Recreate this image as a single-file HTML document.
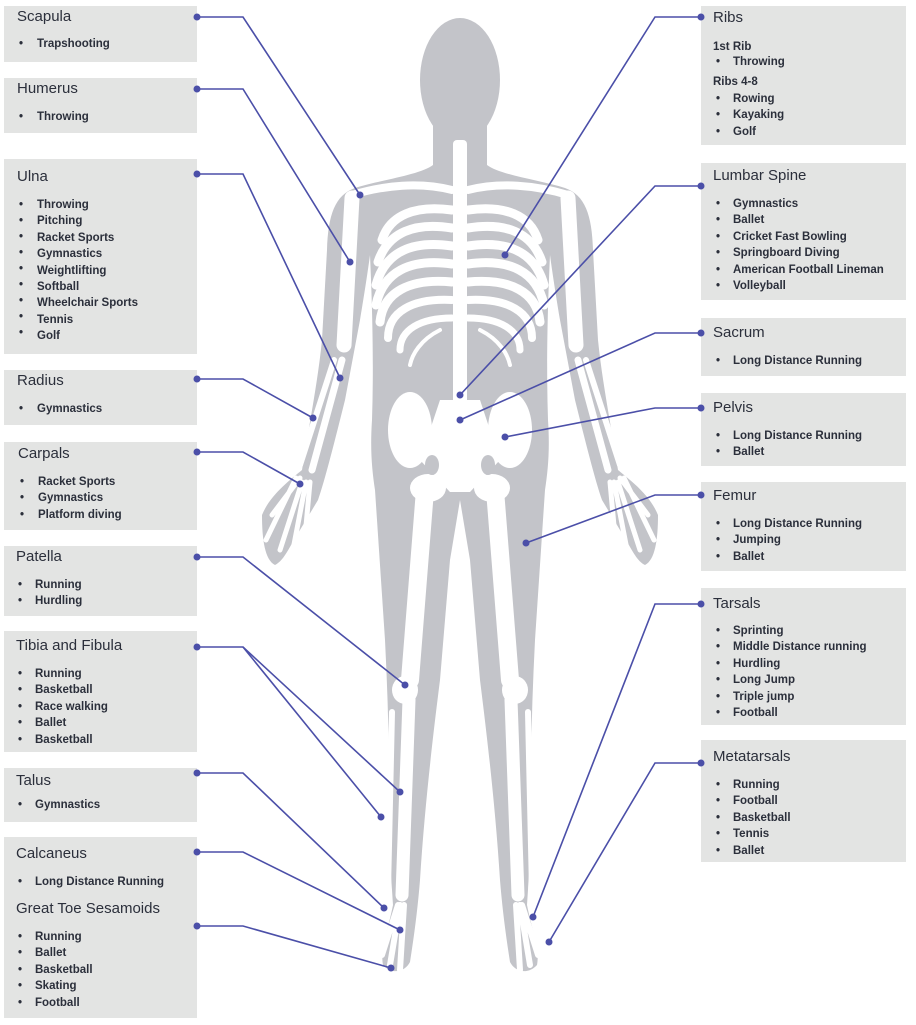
<!DOCTYPE html>
<html><head><meta charset="utf-8"><style>
body{margin:0;width:916px;height:1025px;background:#fff;position:relative;overflow:hidden;font-family:"Liberation Sans",sans-serif;color:#2b2f3b}
.b{position:absolute;background:#e3e4e3}
.t{position:absolute;font-size:15px;line-height:16px;height:16px;white-space:nowrap}
.i{position:absolute;font-size:11.5px;font-weight:bold;line-height:16px;height:16px;white-space:nowrap}
.s{position:absolute;font-size:11.5px;font-weight:bold;line-height:16px;height:16px}
svg{position:absolute;left:0;top:0}
</style></head><body>
<div class="b" style="left:4px;top:6px;width:193px;height:56px"></div>
<div class="b" style="left:4px;top:78px;width:193px;height:55px"></div>
<div class="b" style="left:4px;top:159px;width:193px;height:195px"></div>
<div class="b" style="left:4px;top:370px;width:193px;height:55px"></div>
<div class="b" style="left:4px;top:442px;width:193px;height:88px"></div>
<div class="b" style="left:4px;top:546px;width:193px;height:70px"></div>
<div class="b" style="left:4px;top:631px;width:193px;height:121px"></div>
<div class="b" style="left:4px;top:768px;width:193px;height:54px"></div>
<div class="b" style="left:4px;top:837px;width:193px;height:181px"></div>
<div class="b" style="left:701px;top:6px;width:205px;height:139px"></div>
<div class="b" style="left:701px;top:163px;width:205px;height:137px"></div>
<div class="b" style="left:701px;top:318px;width:205px;height:58px"></div>
<div class="b" style="left:701px;top:393px;width:205px;height:73px"></div>
<div class="b" style="left:701px;top:482px;width:205px;height:89px"></div>
<div class="b" style="left:701px;top:588px;width:205px;height:137px"></div>
<div class="b" style="left:701px;top:740px;width:205px;height:122px"></div>

<svg width="916" height="1025" viewBox="0 0 916 1025">
<defs>
<path id="half" d="M460,165 L433,165 C420,175 380,180 355,188 C335,195 328,215 327,250 L322,340 C318,380 310,420 302,470 C290,480 270,495 262,515 C262,540 265,560 275,565 C285,560 290,545 300,530 L318,500 C325,480 335,440 345,400 L360,320 C365,290 368,270 370,255 C372,300 374,360 372,420 C370,450 372,470 375,490 L385,640 C388,700 390,760 388,820 C390,860 392,890 393,905 C388,930 380,950 383,965 C392,975 405,972 410,962 C415,930 418,905 420,880 C425,800 435,720 440,680 L450,560 L460,500 Z"/>
<g id="bones" fill="none" stroke="#fff" stroke-linecap="round">
<path d="M452,190 C420,182 385,185 352,195" stroke-width="8"/>
<path d="M452,210 C415,205 390,215 382,240" stroke-width="9"/>
<path d="M452,228 C415,222 388,232 378,262" stroke-width="9"/>
<path d="M452,246 C412,240 385,252 376,285" stroke-width="9"/>
<path d="M452,264 C410,258 383,272 376,305" stroke-width="9"/>
<path d="M452,282 C410,278 383,292 380,322" stroke-width="9"/>
<path d="M452,300 C412,298 388,312 388,338" stroke-width="8"/>
<path d="M452,318 C420,318 400,330 400,350" stroke-width="7"/>
<path d="M440,330 C420,340 412,355 410,365" stroke-width="4"/>
<path d="M352,198 L344,345" stroke-width="15"/>
<path d="M342,360 L312,470" stroke-width="7"/>
<path d="M334,360 L300,465" stroke-width="6"/>
<path d="M300,478 L272,515 M302,482 L280,550 M306,482 L292,555 M310,482 L304,548 M296,478 L266,540" stroke-width="5"/>
<path d="M425,490 L410,680" stroke-width="18"/>
<path d="M409,700 L402,895" stroke-width="13"/>
<path d="M392,712 L388,890" stroke-width="6"/>
<path d="M400,905 L390,965 M404,905 L400,970 M398,905 L382,955" stroke-width="6"/>
</g>
</defs>
<g fill="#c3c4c9">
<ellipse cx="460" cy="80" rx="40" ry="62"/>
<rect x="433" y="120" width="54" height="60"/>
<use href="#half"/>
<use href="#half" transform="translate(920,0) scale(-1,1)"/>
</g>
<use href="#bones"/>
<use href="#bones" transform="translate(920,0) scale(-1,1)"/>
<g fill="#fff">
<rect x="453" y="140" width="14" height="270" rx="4"/>
<ellipse cx="410" cy="430" rx="22" ry="38"/>
<ellipse cx="510" cy="430" rx="22" ry="38"/>
<path d="M440,400 L480,400 L500,460 L470,492 L450,492 L420,460 Z"/>
<ellipse cx="428" cy="488" rx="18" ry="14"/>
<ellipse cx="492" cy="488" rx="18" ry="14"/>
<ellipse cx="405" cy="690" rx="13" ry="14"/>
<ellipse cx="515" cy="690" rx="13" ry="14"/>
</g>
<g fill="#c3c4c9"><ellipse cx="432" cy="465" rx="7" ry="10"/><ellipse cx="488" cy="465" rx="7" ry="10"/></g>
<g fill="none" stroke="#4b4fa8" stroke-width="1.6">
<polyline points="197,17 243,17 360,195"/>
<polyline points="197,89 243,89 350,262"/>
<polyline points="197,174 243,174 340,378"/>
<polyline points="197,379 243,379 313,418"/>
<polyline points="197,452 243,452 300,484"/>
<polyline points="197,557 243,557 405,685"/>
<polyline points="197,647 243,647 400,792"/>
<polyline points="243,647 381,817"/>
<polyline points="197,773 243,773 384,908"/>
<polyline points="197,852 243,852 400,930"/>
<polyline points="197,926 243,926 391,968"/>
<polyline points="701,17 655,17 505,255"/>
<polyline points="701,186 655,186 460,395"/>
<polyline points="701,333 655,333 460,420"/>
<polyline points="701,408 655,408 505,437"/>
<polyline points="701,495 655,495 526,543"/>
<polyline points="701,604 655,604 533,917"/>
<polyline points="701,763 655,763 549,942"/>
</g>
<g fill="#4b4fa8">
<circle cx="197" cy="17" r="3.5"/><circle cx="360" cy="195" r="3.5"/>
<circle cx="197" cy="89" r="3.5"/><circle cx="350" cy="262" r="3.5"/>
<circle cx="197" cy="174" r="3.5"/><circle cx="340" cy="378" r="3.5"/>
<circle cx="197" cy="379" r="3.5"/><circle cx="313" cy="418" r="3.5"/>
<circle cx="197" cy="452" r="3.5"/><circle cx="300" cy="484" r="3.5"/>
<circle cx="197" cy="557" r="3.5"/><circle cx="405" cy="685" r="3.5"/>
<circle cx="197" cy="647" r="3.5"/><circle cx="400" cy="792" r="3.5"/><circle cx="381" cy="817" r="3.5"/>
<circle cx="197" cy="773" r="3.5"/><circle cx="384" cy="908" r="3.5"/>
<circle cx="197" cy="852" r="3.5"/><circle cx="400" cy="930" r="3.5"/>
<circle cx="197" cy="926" r="3.5"/><circle cx="391" cy="968" r="3.5"/>
<circle cx="701" cy="17" r="3.5"/><circle cx="505" cy="255" r="3.5"/>
<circle cx="701" cy="186" r="3.5"/><circle cx="460" cy="395" r="3.5"/>
<circle cx="701" cy="333" r="3.5"/><circle cx="460" cy="420" r="3.5"/>
<circle cx="701" cy="408" r="3.5"/><circle cx="505" cy="437" r="3.5"/>
<circle cx="701" cy="495" r="3.5"/><circle cx="526" cy="543" r="3.5"/>
<circle cx="701" cy="604" r="3.5"/><circle cx="533" cy="917" r="3.5"/>
<circle cx="701" cy="763" r="3.5"/><circle cx="549" cy="942" r="3.5"/>
</g>
</svg>

<div class="t" style="left:17px;top:9px">Scapula</div>
<div class="s" style="left:19px;top:36px">•</div><div class="i" style="left:37px;top:36px">Trapshooting</div>
<div class="t" style="left:17px;top:81px">Humerus</div>
<div class="s" style="left:19px;top:109px">•</div><div class="i" style="left:37px;top:109px">Throwing</div>
<div class="t" style="left:17px;top:169px">Ulna</div>
<div class="s" style="left:19px;top:197px">•<br>•<br>•<br>•<br>•<br>•<br>•<br>•<br>•</div>
<div class="i" style="left:37px;top:197px;line-height:16.4px">Throwing<br>Pitching<br>Racket Sports<br>Gymnastics<br>Weightlifting<br>Softball<br>Wheelchair Sports<br>Tennis<br>Golf</div>
<div class="t" style="left:17px;top:373px">Radius</div>
<div class="s" style="left:19px;top:401px">•</div><div class="i" style="left:37px;top:401px">Gymnastics</div>
<div class="t" style="left:18px;top:446px">Carpals</div>
<div class="s" style="left:20px;top:474px;line-height:16.4px">•<br>•<br>•</div>
<div class="i" style="left:38px;top:474px;line-height:16.4px">Racket Sports<br>Gymnastics<br>Platform diving</div>
<div class="t" style="left:16px;top:549px">Patella</div>
<div class="s" style="left:18px;top:577px;line-height:16.4px">•<br>•</div>
<div class="i" style="left:35px;top:577px;line-height:16.4px">Running<br>Hurdling</div>
<div class="t" style="left:16px;top:638px">Tibia and Fibula</div>
<div class="s" style="left:18px;top:666px;line-height:16.4px">•<br>•<br>•<br>•<br>•</div>
<div class="i" style="left:35px;top:666px;line-height:16.4px">Running<br>Basketball<br>Race walking<br>Ballet<br>Basketball</div>
<div class="t" style="left:16px;top:773px">Talus</div>
<div class="s" style="left:18px;top:797px">•</div><div class="i" style="left:35px;top:797px">Gymnastics</div>
<div class="t" style="left:16px;top:846px">Calcaneus</div>
<div class="s" style="left:18px;top:874px">•</div><div class="i" style="left:35px;top:874px">Long Distance Running</div>
<div class="t" style="left:16px;top:901px">Great Toe Sesamoids</div>
<div class="s" style="left:18px;top:929px;line-height:16.4px">•<br>•<br>•<br>•<br>•</div>
<div class="i" style="left:35px;top:929px;line-height:16.4px">Running<br>Ballet<br>Basketball<br>Skating<br>Football</div>

<div class="t" style="left:713px;top:10px">Ribs</div>
<div class="i" style="left:713px;top:39px">1st Rib</div>
<div class="s" style="left:716px;top:54px">•</div><div class="i" style="left:733px;top:54px">Throwing</div>
<div class="i" style="left:713px;top:74px">Ribs 4-8</div>
<div class="s" style="left:716px;top:91px;line-height:16.4px">•<br>•<br>•</div>
<div class="i" style="left:733px;top:91px;line-height:16.4px">Rowing<br>Kayaking<br>Golf</div>
<div class="t" style="left:713px;top:168px">Lumbar Spine</div>
<div class="s" style="left:716px;top:196px;line-height:16.4px">•<br>•<br>•<br>•<br>•<br>•</div>
<div class="i" style="left:733px;top:196px;line-height:16.4px">Gymnastics<br>Ballet<br>Cricket Fast Bowling<br>Springboard Diving<br>American Football Lineman<br>Volleyball</div>
<div class="t" style="left:713px;top:325px">Sacrum</div>
<div class="s" style="left:716px;top:353px">•</div><div class="i" style="left:733px;top:353px">Long Distance Running</div>
<div class="t" style="left:713px;top:400px">Pelvis</div>
<div class="s" style="left:716px;top:428px;line-height:16.4px">•<br>•</div>
<div class="i" style="left:733px;top:428px;line-height:16.4px">Long Distance Running<br>Ballet</div>
<div class="t" style="left:713px;top:488px">Femur</div>
<div class="s" style="left:716px;top:516px;line-height:16.4px">•<br>•<br>•</div>
<div class="i" style="left:733px;top:516px;line-height:16.4px">Long Distance Running<br>Jumping<br>Ballet</div>
<div class="t" style="left:713px;top:596px">Tarsals</div>
<div class="s" style="left:716px;top:623px;line-height:16.4px">•<br>•<br>•<br>•<br>•<br>•</div>
<div class="i" style="left:733px;top:623px;line-height:16.4px">Sprinting<br>Middle Distance running<br>Hurdling<br>Long Jump<br>Triple jump<br>Football</div>
<div class="t" style="left:713px;top:749px">Metatarsals</div>
<div class="s" style="left:716px;top:777px;line-height:16.4px">•<br>•<br>•<br>•<br>•</div>
<div class="i" style="left:733px;top:777px;line-height:16.4px">Running<br>Football<br>Basketball<br>Tennis<br>Ballet</div>
</body></html>
